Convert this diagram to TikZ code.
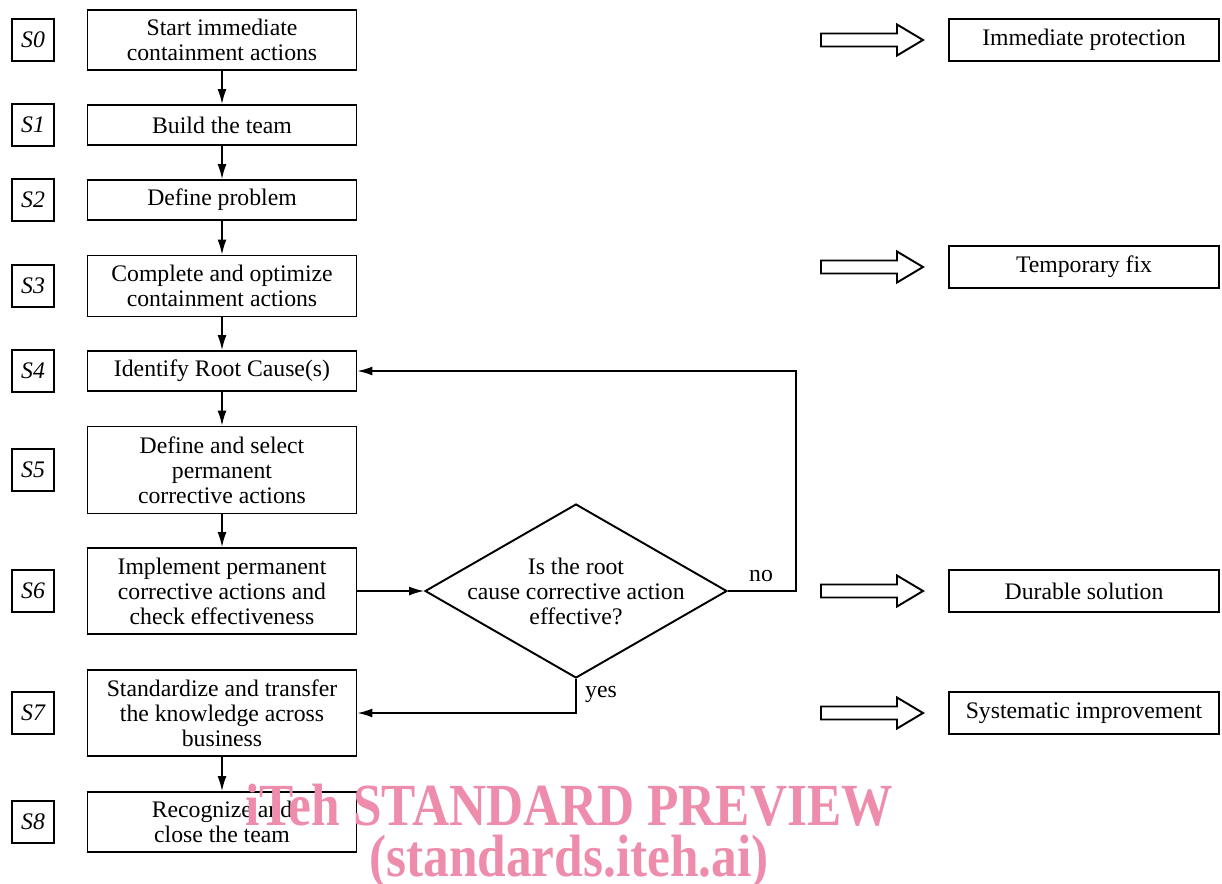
\documentclass[tikz,border=0pt]{standalone}
\usepackage{fontspec}
\setmainfont{Liberation Serif}
\usetikzlibrary{arrows.meta, shapes.geometric}
\definecolor{wmpink}{RGB}{238,141,171}

\begin{document}
\begin{tikzpicture}[x=0.02cm, y=-0.02cm, line join=miter,
  every node/.style={font=\fontsize{13.5}{14.2}\selectfont},
  stepbox/.style={draw, line width=1.1pt, minimum width=5.38cm, align=center, inner sep=2pt},
  tagbox/.style={draw, line width=1pt, minimum width=0.84cm, minimum height=0.84cm, inner sep=0pt, font=\fontsize{13.5}{14.2}\selectfont\itshape},
  resbox/.style={draw, line width=1.1pt, minimum width=5.4cm, minimum height=0.84cm, inner sep=0pt},
  decision/.style={draw, diamond, line width=1.1pt, minimum width=6.04cm, minimum height=3.48cm, inner sep=0pt, aspect=1.74},
  flow/.style={line width=0.9pt, -{Latex[length=3mm, width=1.8mm]}},
  hollow/.style={draw, line width=1.1pt}]

\useasboundingbox (0,0) rectangle (1222,883);

% steps of the procedure
\node[stepbox, minimum height=1.2cm] (s0) at (222,40) {Start immediate\\containment actions};
\node[stepbox, minimum height=0.8cm] (s1) at (222,125) {Build the team};
\node[stepbox, minimum height=0.8cm] (s2) at (222,200) {Define problem};
\node[stepbox, minimum height=1.22cm] (s3) at (222,286) {Complete and optimize\\containment actions};
\node[stepbox, minimum height=0.8cm] (s4) at (222,371) {Identify Root Cause(s)};
\node[stepbox, minimum height=1.74cm] (s5) at (222,470) {Define and select\\permanent\\corrective actions};
\node[stepbox, minimum height=1.72cm] (s6) at (222,591) {Implement permanent\\corrective actions and\\check effectiveness};
\node[stepbox, minimum height=1.72cm] (s7) at (222,713) {Standardize and transfer\\the knowledge across\\business};
\node[stepbox, minimum height=1.2cm] (s8) at (222,822) {Recognize and\\close the team};

% step tags
\foreach \i/\y in {0/40,1/125,2/200,3/286,4/371,5/470,6/591,7/713,8/822}
  \node[tagbox] (t\i) at (33,\y) {S\i};

\foreach \i [count=\k from 1] in {0,...,5} {
  \draw[flow] (s\i) -- (s\k);
}
\draw[flow] (s7) -- (s8);

% check loop
\node[decision] (q) at (576,591) {};
\node[align=center] (qtext) at (q) {Is the root\\cause corrective action\\effective?};
\draw[flow] (s6) -- (q);
\draw[flow] (q.east) -- ++(68,0) |- (s4.east);
\draw[flow] (q.south) |- (s7.east);
\node (no) at (761,576) {no};
\node (yes) at (601,694) {yes};

% outcomes
\node[resbox] (r0) at (1084,40) {Immediate protection};
\node[resbox] (r3) at (1084,267) {Temporary fix};
\node[resbox] (r6) at (1084,591) {Durable solution};
\node[resbox] (r7) at (1084,713) {Systematic improvement};

\foreach \y in {40,267,591,713} {
  \draw[hollow, shift={(0,\y)}] (821,-6.5) -- (897,-6.5) -- (897,-15.5) -- (923,0) -- (897,15.5) -- (897,6.5) -- (821,6.5) -- cycle;
}

% watermark
\node[anchor=base, text=wmpink, inner sep=0pt, font=\fontsize{34}{40}\selectfont\bfseries] (wm1) at (569,825) {\scalebox{0.86}[1]{iTeh STANDARD PREVIEW}};
\node[anchor=base, text=wmpink, inner sep=0pt, font=\fontsize{34}{40}\selectfont\bfseries] (wm2) at (569,876) {\scalebox{0.86}[1]{(standards.iteh.ai)}};

\end{tikzpicture}
\end{document}
